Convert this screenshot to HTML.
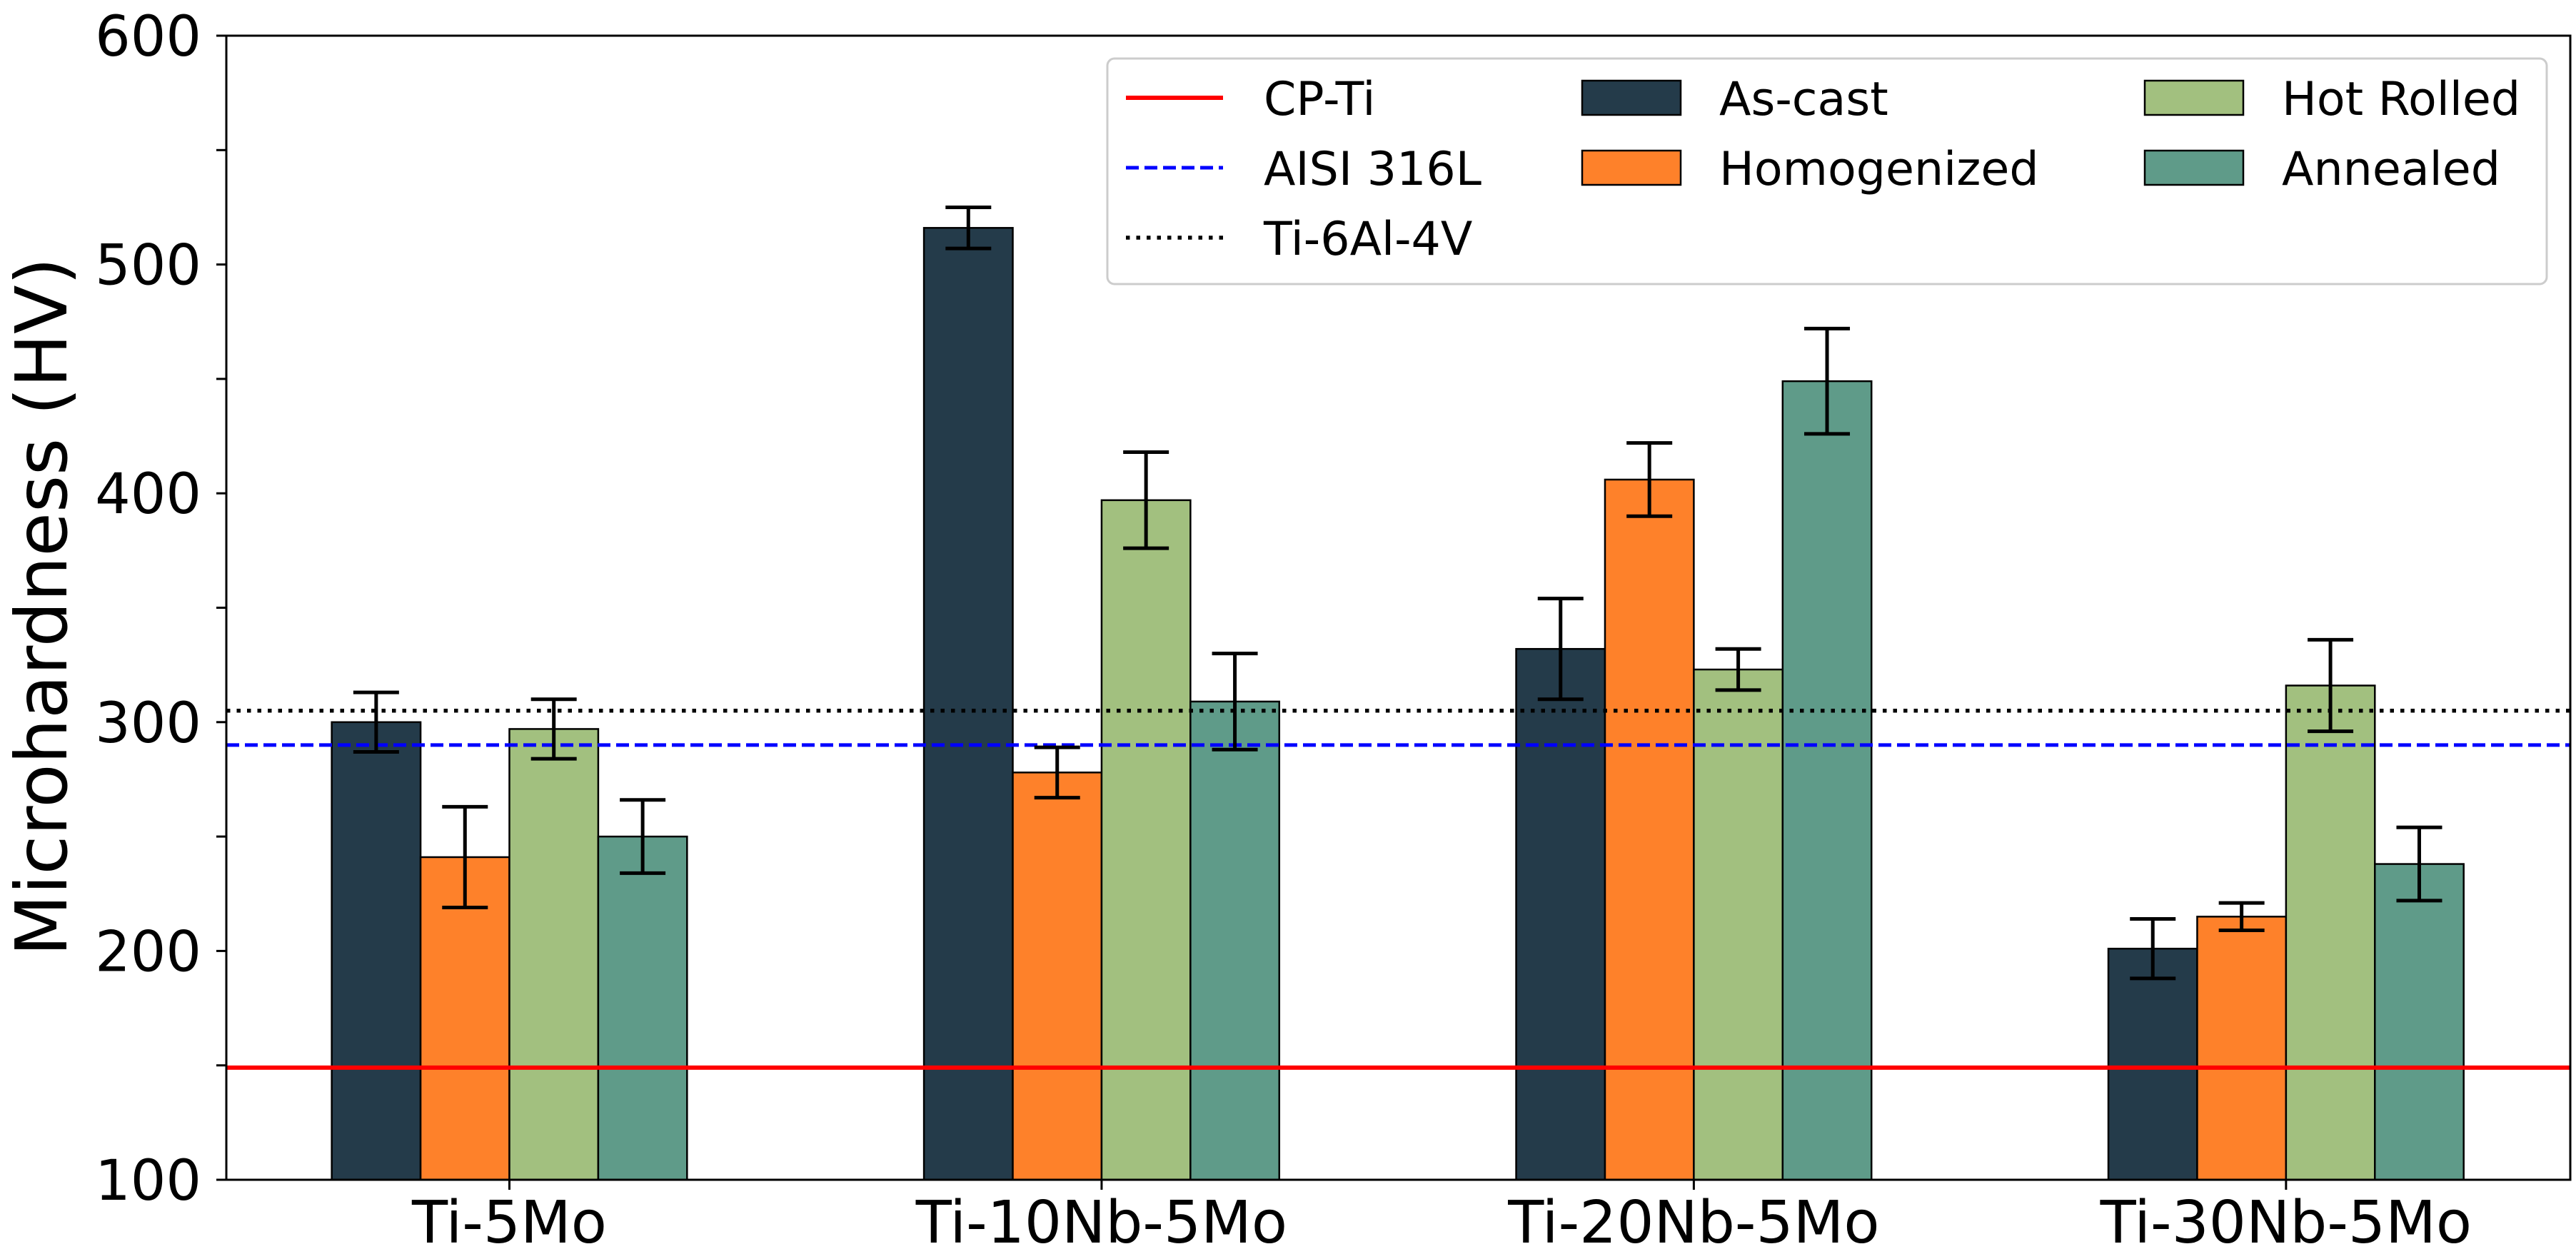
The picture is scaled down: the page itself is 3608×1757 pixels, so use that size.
<!DOCTYPE html>
<html><head><meta charset="utf-8">
<style>
html,body{margin:0;padding:0;background:#fff;}
svg{display:block;font-family:"DejaVu Sans","Liberation Sans",sans-serif;}
</style></head>
<body>
<svg id="chart" width="3608" height="1757" viewBox="0 0 3608 1757" xmlns="http://www.w3.org/2000/svg">
<rect x="0" y="0" width="3608" height="1757" fill="#fff"/>
<g id="plot"></g>
</svg>
<script>
const categories = ["Ti-5Mo","Ti-10Nb-5Mo","Ti-20Nb-5Mo","Ti-30Nb-5Mo"];
const seriesNames = ["As-cast","Homogenized","Hot Rolled","Annealed"];
const asCast = [300, 516, 332, 201];
const asCastErr = [13, 9, 22, 13];
const homogenized = [241, 278, 406, 215];
const homogenizedErr = [22, 11, 16, 6];
const hotRolled = [297, 397, 323, 316];
const hotRolledErr = [13, 21, 9, 20];
const annealed = [250, 309, 449, 238];
const annealedErr = [16, 21, 23, 16];
const refNames = ["CP-Ti","AISI 316L","Ti-6Al-4V"];
const refValues = [149, 290, 305];
const yTicks = [100, 200, 300, 400, 500, 600];

const NS = "http://www.w3.org/2000/svg";
const L = 317, R = 3600, T = 50, B = 1653;
const xMin = -0.478, xMax = 3.48, yMin = 100, yMax = 600;
const xs = v => L + (v - xMin) / (xMax - xMin) * (R - L);
const ys = v => B - (v - yMin) / (yMax - yMin) * (B - T);
const g = document.getElementById('plot');
function mk(tag, attrs, parent) {
  const e = document.createElementNS(NS, tag);
  for (const k in attrs) e.setAttribute(k, attrs[k]);
  (parent || g).appendChild(e);
  return e;
}
const colors = ["#243b4a", "#fe812a", "#a2c07f", "#5f9b89"];
const allVals = [asCast, homogenized, hotRolled, annealed];
const allErr = [asCastErr, homogenizedErr, hotRolledErr, annealedErr];
const bw = 0.15;
const slugs = ["as-cast","homogenized","hot-rolled","annealed"];

allVals.forEach((vals, s) => {
  vals.forEach((v, i) => {
    const cx = i + (s - 1.5) * bw;
    const x0 = xs(cx - bw / 2), x1 = xs(cx + bw / 2);
    const r = mk('rect', {x: x0, y: ys(v), width: x1 - x0, height: ys(yMin) - ys(v), fill: colors[s], stroke: '#000', 'stroke-width': 2.5});
    
    
  });
});
const refStyles = [
  {stroke: '#ff0000', 'stroke-width': 6},
  {stroke: '#0000ff', 'stroke-width': 5, 'stroke-dasharray': '18 8'},
  {stroke: '#000', 'stroke-width': 5.5, 'stroke-dasharray': '5.5 9'}
];
const refSlugs = ["cp-ti-line","aisi-316l-line","ti-6al-4v-line"];
refValues.forEach((v, k) => {
  const a = Object.assign({x1: L, x2: R, y1: ys(v), y2: ys(v), fill: 'none'}, refStyles[k]);
  const ln = mk('line', a);
  
  
});
allVals.forEach((vals, s) => {
  vals.forEach((v, i) => {
    const cx = xs(i + (s - 1.5) * bw);
    const e = allErr[s][i];
    const eg = mk('g', {stroke: '#000', 'stroke-width': 5});
    
    
    mk('line', {x1: cx, x2: cx, y1: ys(v - e), y2: ys(v + e)}, eg);
    mk('line', {x1: cx - 32, x2: cx + 32, y1: ys(v - e), y2: ys(v - e)}, eg);
    mk('line', {x1: cx - 32, x2: cx + 32, y1: ys(v + e), y2: ys(v + e)}, eg);
  });
});
const sp = mk('rect', {x: L, y: T, width: R - L, height: B - T, fill: 'none', stroke: '#000', 'stroke-width': 3});


yTicks.forEach(t => {
  mk('line', {x1: L - 14, x2: L, y1: ys(t), y2: ys(t), stroke: '#000', 'stroke-width': 3});
  const tx = mk('text', {x: 282, y: ys(t) + 28, 'text-anchor': 'end', 'font-size': 78, fill: '#000'});
  tx.textContent = t;
  
  
});
[150, 250, 350, 450, 550].forEach(t => {
  mk('line', {x1: L - 14, x2: L, y1: ys(t), y2: ys(t), stroke: '#000', 'stroke-width': 3});
});
categories.forEach((c, i) => {
  mk('line', {x1: xs(i), x2: xs(i), y1: B, y2: B + 14, stroke: '#000', 'stroke-width': 3});
  const tx = mk('text', {x: xs(i), y: 1741, 'text-anchor': 'middle', 'font-size': 82, fill: '#000'});
  tx.textContent = c;
  
  
});
const yt = mk('text', {x: 0, y: 0, 'text-anchor': 'middle', 'font-size': 100, fill: '#000', transform: 'translate(93,850) rotate(-90)'});
yt.textContent = 'Microhardness (HV)';



const lg = mk('g', {});


mk('rect', {x: 1551, y: 82, width: 2016, height: 316, rx: 10, fill: '#fff', stroke: '#cccccc', 'stroke-width': 3}, lg);
const rowY = [137, 235, 333];
refNames.forEach((n, k) => {
  const a = Object.assign({x1: 1577, x2: 1713, y1: rowY[k], y2: rowY[k]}, refStyles[k]);
  mk('line', a, lg);
  const tx = mk('text', {x: 1770, y: rowY[k] + 24, 'font-size': 65, fill: '#000'}, lg);
  tx.textContent = n;
  
  
});
const patchPos = [[2216, 137], [2216, 235], [3004, 137], [3004, 235]];
const textX = [2408, 2408, 3196, 3196];
seriesNames.forEach((n, s) => {
  const [px, py] = patchPos[s];
  mk('rect', {x: px, y: py - 24, width: 138, height: 48, fill: colors[s], stroke: '#000', 'stroke-width': 2.5}, lg);
  const tx = mk('text', {x: textX[s], y: py + 24, 'font-size': 65, fill: '#000'}, lg);
  tx.textContent = n;
  
  
});
</script>
</body></html>
